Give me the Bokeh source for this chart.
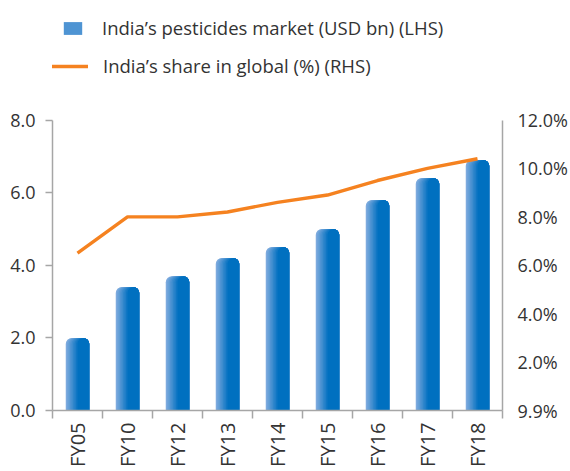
import numpy as np
from bokeh.plotting import figure
from bokeh.models import (Range1d, LinearAxis, FixedTicker, NumeralTickFormatter,
                          CustomJSTickFormatter, Legend, LegendItem, ColumnDataSource)
from bokeh.embed import file_html
from bokeh.resources import INLINE

categories = ["FY05", "FY10", "FY12", "FY13", "FY14", "FY15", "FY16", "FY17", "FY18"]
market_usd_bn = [2.0, 3.4, 3.7, 4.2, 4.5, 5.0, 5.8, 6.4, 6.9]
share_pct = [6.5, 8.0, 8.0, 8.2, 8.6, 8.9, 9.5, 10.0, 10.4]
left_ticks = [0, 2, 4, 6, 8]
right_ticks = [0, 2, 4, 6, 8, 10, 12]
right_tick_labels = ["9.9%", "2.0%", "4.0%", "6.0%", "8.0%", "10.0%", "12.0%"]

FONT = "Open Sans"
TXT = "#333333"
AX = "#a6a6a6"

# layout (pixels): frame spans whole top area so the legend can sit inside it
W, H = 570, 471
FRAME_L, FRAME_R, FRAME_B = 52, 502, 410
AXIS_TOP = 119.5
L_MAX, R_MAX = 8, 12
l_top = L_MAX * FRAME_B / (FRAME_B - AXIS_TOP)
r_top = R_MAX * FRAME_B / (FRAME_B - AXIS_TOP)

p = figure(width=W, height=H, output_backend="svg", toolbar_location=None,
           x_range=Range1d(0, len(categories)), y_range=Range1d(0, l_top),
           min_border_left=FRAME_L, min_border_right=W - FRAME_R, min_border_top=0,
           min_border_bottom=H - FRAME_B, x_axis_type=None, y_axis_type=None)
p.outline_line_color = None
p.grid.visible = False
p.extra_y_ranges = {"pct": Range1d(0, r_top)}
p.background_fill_color = None
p.border_fill_color = "white"

xpos = np.arange(len(categories)) + 0.5

# bars drawn as overlapping strips to imitate the horizontal gradient
bar_w = 0.47
n_strips = 9
c_light = np.array([125, 170, 222])
c_dark = np.array([0, 112, 192])
renderers = []
for i in range(n_strips):
    left_i = -bar_w / 2 + i * (bar_w / 2) / (n_strips - 1)
    width_i = bar_w / 2 - left_i
    t = i / (n_strips - 1)
    col = c_light + (c_dark - c_light) * t
    color = "#%02x%02x%02x" % tuple(int(round(v)) for v in col)
    src = ColumnDataSource(dict(x=xpos + left_i + width_i / 2, top=market_usd_bn))
    r = p.vbar(x="x", top="top", bottom=0, width=width_i, source=src,
               fill_color=color, line_color=None, border_radius=(6, 6, 0, 0))
    renderers.append(r)

line = p.line(xpos, share_pct, y_range_name="pct", line_color="#f58220", line_width=3.4)

# axes
yl = LinearAxis(ticker=FixedTicker(ticks=left_ticks), formatter=NumeralTickFormatter(format="0.0"),
                bounds=(0, L_MAX))
yl.axis_line_color = AX
yl.axis_line_width = 1.5
yl.major_tick_line_color = AX
yl.major_tick_line_width = 1.5
yl.major_tick_out = 7
yl.major_tick_in = 0
yl.minor_tick_line_color = None
yl.major_label_standoff = 10
yl.major_label_text_font = FONT
yl.major_label_text_font_size = "18px"
yl.major_label_text_color = TXT
p.add_layout(yl, "left")

yr = LinearAxis(y_range_name="pct", ticker=FixedTicker(ticks=right_ticks), bounds=(0, R_MAX),
                formatter=CustomJSTickFormatter(args=dict(tv=right_ticks, labs=right_tick_labels),
                                               code="return labs[tv.indexOf(Math.round(tick))];"))
yr.axis_line_color = AX
yr.axis_line_width = 1.5
yr.major_tick_line_color = None
yr.major_tick_out = 0
yr.major_tick_in = 0
yr.minor_tick_line_color = None
yr.major_label_standoff = 15
yr.major_label_text_font = FONT
yr.major_label_text_font_size = "18px"
yr.major_label_text_color = TXT
p.add_layout(yr, "right")

boundaries = list(range(len(categories) + 1))
xa = LinearAxis(ticker=FixedTicker(ticks=list(xpos), minor_ticks=boundaries),
                formatter=CustomJSTickFormatter(args=dict(cats=categories),
                                               code="return cats[Math.floor(tick)];"))
xa.axis_line_color = AX
xa.axis_line_width = 1.5
xa.major_tick_line_color = None
xa.major_tick_out = 8
xa.major_tick_in = 0
xa.minor_tick_line_color = AX
xa.minor_tick_line_width = 1.5
xa.minor_tick_out = 8
xa.minor_tick_in = 0
xa.major_label_orientation = np.pi / 2
xa.major_label_standoff = 4
xa.major_label_text_font = FONT
xa.major_label_text_font_size = "20px"
xa.major_label_text_color = TXT
p.add_layout(xa, "below")

leg1 = Legend(items=[LegendItem(label="India\u2019s pesticides market (USD bn) (LHS)", renderers=[renderers[3]])],
              location=(9, 370), glyph_width=23, glyph_height=16, label_standoff=18, label_height=16,
              padding=0, margin=0, border_line_color=None, background_fill_alpha=0,
              label_text_font=FONT, label_text_font_size="18.5px", label_text_color=TXT)
leg2 = Legend(items=[LegendItem(label="India\u2019s share in global (%) (RHS)", renderers=[line])],
              location=(-3, 332), glyph_width=39, glyph_height=16, label_standoff=15, label_height=16,
              padding=0, margin=0, border_line_color=None, background_fill_alpha=0,
              label_text_font=FONT, label_text_font_size="18.5px", label_text_color=TXT)
p.add_layout(leg1, "center")
p.add_layout(leg2, "center")

open("out.html", "w").write(file_html(p, INLINE))
